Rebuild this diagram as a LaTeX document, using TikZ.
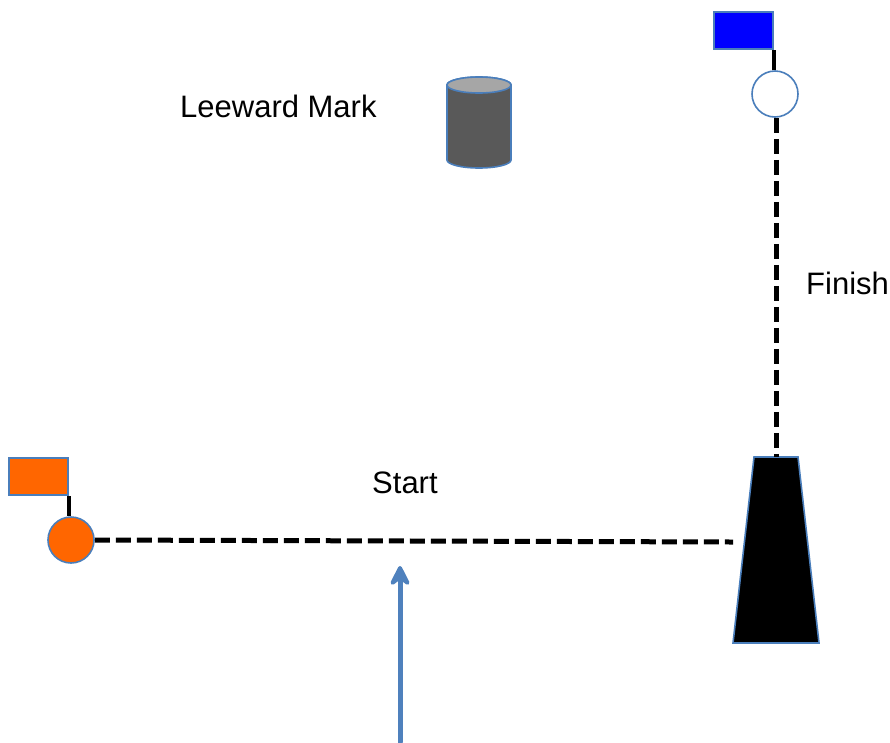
\documentclass[tikz,border=0pt]{standalone}
\usepackage{fontspec}
\setmainfont{Liberation Sans}
\usetikzlibrary{arrows.meta}
\definecolor{edgeblue}{HTML}{4A7EBB}
\definecolor{arrowblue}{HTML}{4F81BD}
\definecolor{flagorange}{HTML}{FF6600}
\definecolor{markbody}{HTML}{595959}
\definecolor{marktop}{HTML}{A6A6A6}
\tikzset{
  outlined/.style={draw=edgeblue, line width=1.6pt},
  buoy/.style={outlined, circle, minimum size=46pt, inner sep=0pt},
  flagbox/.style={outlined, rectangle, minimum width=59pt, minimum height=37pt, inner sep=0pt, anchor=south east},
  pole/.style={line width=4pt, black},
  courseline/.style={line width=5pt, black, dash pattern=on 15pt off 6pt},
  label/.style={font=\fontsize{31}{36}\selectfont, inner sep=0pt, anchor=base west},
}
\begin{document}
\begin{tikzpicture}[x=1pt, y=-1pt]
\useasboundingbox (0,0) rectangle (890,742);

% committee boat at the starboard end of both lines
\coordinate (boatTL) at (754,457);
\coordinate (boatTR) at (798,457);
\coordinate (boatBR) at (819,643);
\coordinate (boatBL) at (733,643);
\filldraw[outlined, fill=black] (boatTL) -- (boatTR) -- (boatBR) -- (boatBL) -- cycle;
\coordinate (boatTop) at (776,457);
\coordinate (boatPort) at (733,542);

% finish pin with blue flag
\node[buoy, fill=white] (finishPin) at (775,94) {};
\node[flagbox, fill=blue] (finishFlag) at (774,50) {};
\draw[pole] (finishFlag.south east) -- (finishFlag.south east |- finishPin.north);

% start pin with orange flag
\node[buoy, fill=flagorange] (startPin) at (71,540) {};
\node[flagbox, fill=flagorange] (startFlag) at (69,496) {};
\draw[pole] (startFlag.south east) -- (startFlag.south east |- startPin.north);

% start and finish lines
\draw[courseline] (startPin.east) -- (boatPort);
\draw[courseline] (finishPin.south -| boatTop) -- (boatTop);

% leeward mark (cylinder); y grows downwards, so angle 90 is the lower rim
\filldraw[outlined, fill=markbody]
  (447,85) -- (447,160) arc[start angle=180, end angle=0, x radius=32, y radius=8]
  -- (511,85) arc[start angle=0, end angle=-180, x radius=32, y radius=8] -- cycle;
\filldraw[outlined, fill=marktop] (479,85) ellipse[x radius=32, y radius=8];

% wind direction
\coordinate (windFrom) at (400,742);
\coordinate (windTo) at (400,566);
\draw[arrowblue, line width=5pt, line cap=round,
  -{Stealth[length=26pt, width=26pt, inset=10pt, round]}] (windFrom) -- (windTo);

% labels
\node[label] (leewardLabel) at (180,117) {Leeward Mark};
\node[label] (startLabel) at (372,493) {Start};
\node[label] (finishLabel) at (806,294) {Finish};
\end{tikzpicture}
\end{document}
